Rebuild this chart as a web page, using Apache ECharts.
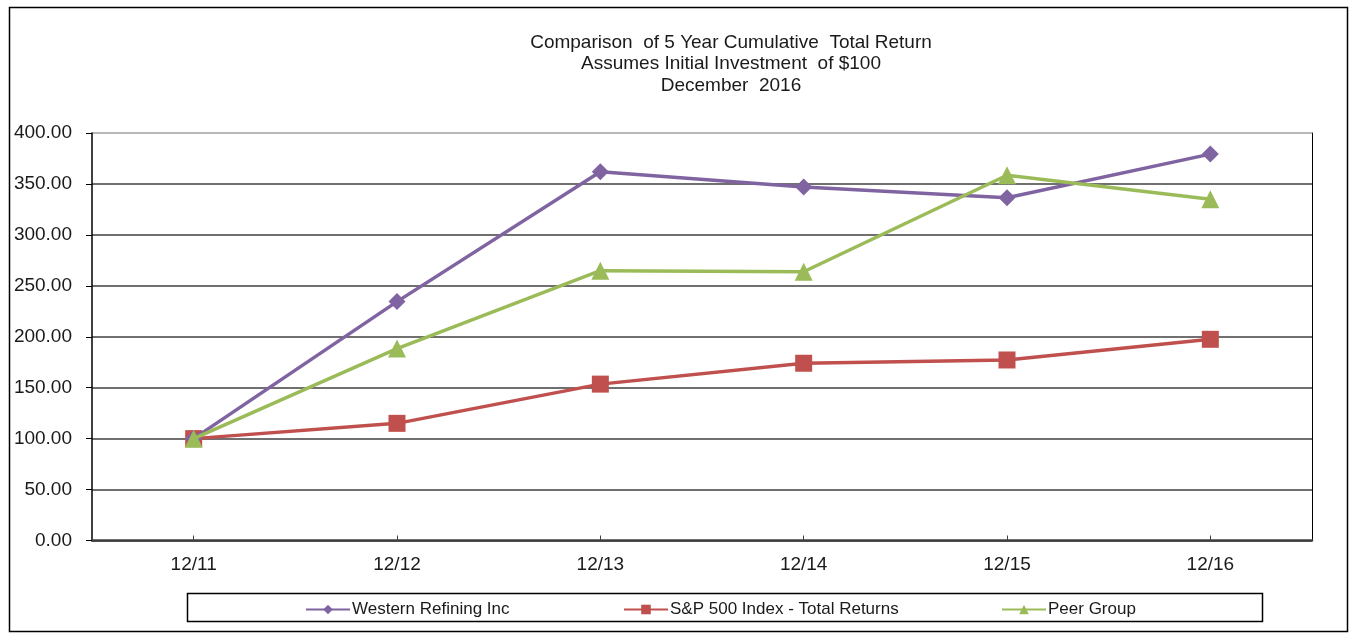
<!DOCTYPE html>
<html>
<head>
<meta charset="utf-8">
<script src="https://cdn.jsdelivr.net/npm/echarts@6/dist/echarts.min.js"></script>
<style>
html,body{margin:0;padding:0;background:#fff;}
#c{width:1356px;height:641px;}
</style>
</head>
<body>
<div id="c"></div>
<script>
const categories = ['12/11', '12/12', '12/13', '12/14', '12/15', '12/16'];
const westernRefining = [100.00, 234.5, 361.9, 347.0, 336.4, 379.3];
const sp500 = [100.00, 115.0, 153.5, 174.0, 177.2, 197.5];
const peerGroup = [100.00, 188.4, 264.8, 263.8, 358.5, 335.0];
const seriesNames = ['Western Refining Inc', 'S&P 500 Index - Total Returns', 'Peer Group'];
const titleLines = ['Comparison  of 5 Year Cumulative  Total Return', 'Assumes Initial Investment  of $100', 'December  2016'];

const chart = echarts.init(document.getElementById('c'), null, {renderer: 'canvas'});
const gridColors = ['#404040','#404040','#404040','#404040','#404040','#404040','#404040','#404040','#a0a0a0'];
const legendText = {fontFamily: 'Liberation Sans, Arial', fontSize: 17, color: '#1a1a1a', padding: [0,0,0,-3]};
const legendLefts = [300, 618, 996];

chart.setOption({
  animation: false,
  backgroundColor: '#fff',
  title: {
    text: titleLines.join('\n'),
    left: 726, top: 27, textAlign: 'center',
    textStyle: {fontFamily: 'Liberation Sans, Arial', fontSize: 19, fontWeight: 'normal', color: '#1a1a1a', lineHeight: 21.5}
  },
  graphic: [
    {type: 'rect', shape: {x: 9.5, y: 7.5, width: 1338, height: 624}, style: {fill: null, stroke: '#000', lineWidth: 1.5}, silent: true, z: -1},
    {type: 'rect', shape: {x: 187.5, y: 593.5, width: 1075, height: 28}, style: {fill: null, stroke: '#000', lineWidth: 1.5}, silent: true, z: -1}
  ],
  legend: seriesNames.map((n, i) => ({
    left: legendLefts[i], top: 596,
    itemWidth: 44, itemHeight: 12, itemGap: 0,
    textStyle: legendText,
    data: [n]
  })),
  grid: {left: 92, right: 44, top: 133, bottom: 100.5, containLabel: false},
  xAxis: {
    type: 'category', data: categories, boundaryGap: true,
    axisLine: {lineStyle: {color: '#404040', width: 2.5}},
    axisTick: {show: true, alignWithLabel: true, inside: true, length: 5, lineStyle: {color: '#404040', width: 1}},
    axisLabel: {fontFamily: 'Liberation Sans, Arial', fontSize: 19, color: '#1a1a1a', margin: 15},
    splitLine: {show: false}
  },
  yAxis: [{
    type: 'value', min: 0, max: 400, interval: 50,
    axisLine: {show: true, lineStyle: {color: '#000', width: 1.5}},
    axisTick: {show: true, length: 6, lineStyle: {color: '#000', width: 1}},
    axisLabel: {fontFamily: 'Liberation Sans, Arial', fontSize: 19, color: '#1a1a1a', margin: 20,
      formatter: v => v.toFixed(2)},
    splitLine: {show: true, lineStyle: {color: gridColors, width: 1.5}}
  }, {
    type: 'value', min: 0, max: 400, interval: 50, position: 'right',
    axisLine: {show: true, lineStyle: {color: '#000', width: 1}},
    axisTick: {show: false}, axisLabel: {show: false}, splitLine: {show: false}
  }],
  series: [
    {name: seriesNames[0], type: 'line', data: westernRefining, symbol: 'diamond', symbolSize: 17,
      lineStyle: {color: '#8064A2', width: 3.5}, itemStyle: {color: '#8064A2'}, z: 3},
    {name: seriesNames[1], type: 'line', data: sp500, symbol: 'rect', symbolSize: 17,
      lineStyle: {color: '#C0504D', width: 3.5}, itemStyle: {color: '#C0504D'}, z: 2},
    {name: seriesNames[2], type: 'line', data: peerGroup, symbol: 'triangle', symbolSize: 18,
      lineStyle: {color: '#9BBB59', width: 3.5}, itemStyle: {color: '#9BBB59'}, z: 4}
  ]
});
</script>
</body>
</html>
